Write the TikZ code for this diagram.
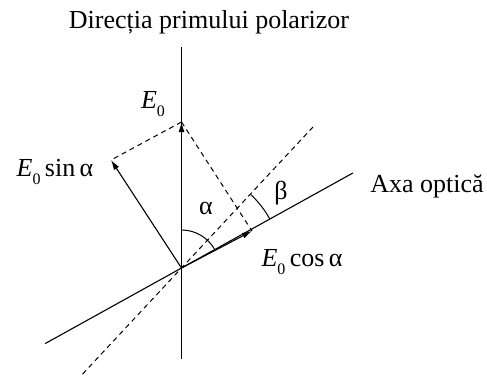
\documentclass[tikz,border=0pt]{standalone}
\usepackage{fontspec}
\setmainfont{Liberation Serif}
\usetikzlibrary{arrows.meta,calc}
\newcommand{\subz}{\raisebox{-0.3em}{\fontsize{16}{18}\selectfont 0}}
\begin{document}
\begin{tikzpicture}[x=1pt,y=-1pt,
  lbl/.style={inner sep=0pt,font=\fontsize{26}{30}\selectfont},
  solidline/.style={line width=1.1pt},
  dashline/.style={line width=1pt,dash pattern=on 5pt off 4pt},
  vec/.style={line width=1.1pt,-{Latex[length=10pt,width=6pt]}}]
\useasboundingbox (0,0) rectangle (487,376);
\coordinate (O) at (181.5,268);
\coordinate (vtop) at (181.5,47);
\coordinate (vbot) at (181.5,359);
\coordinate (aL) at ($(O)+(-156*0.8746,156*0.4848)$);
\coordinate (aR) at ($(O)+(196*0.8746,-196*0.4848)$);
\coordinate (dT) at ($(O)+(194*0.6820,-194*0.7314)$);
\coordinate (dB) at ($(O)+(-145*0.6820,145*0.7314)$);
\coordinate (E) at (181.5,122);
\coordinate (C) at (252,231);
\coordinate (S) at (111,160);
% lines
\draw[solidline] (vtop) -- (vbot);
\draw[solidline] (aL) -- (aR);
\draw[dashline] (dB) -- (dT);
% vectors
\draw[vec] (O) -- (E);
\draw[vec] (O) -- (C);
\draw[vec] (O) -- (S);
% projections
\draw[dashline] (E) -- (S);
\draw[dashline] (E) -- (C);
% arcs (y axis points down: screen angle t is -t here)
\draw[line width=1pt] ($(O)+(0,-38)$) arc[start angle=-90,end angle=-29,radius=38];
\draw[line width=1pt] ($(O)+(101*0.8746,-101*0.4848)$) arc[start angle=-29,end angle=-46.8,radius=101];
% labels
\node[lbl] (title) at (209,22) {Direcția primului polarizor};
\node[lbl] (axa) at (427,186) {Axa optică};
\node[lbl] (e0) at (153,104) {\textit{E}\subz};
\node[lbl] (alpha) at (206,208) {α};
\node[lbl] (beta) at (281,193) {β};
\node[lbl] (ecos) at (302,262) {\textit{E}\subz\,cos\,α};
\node[lbl] (esin) at (55,172) {\textit{E}\subz\,sin\,α};
\end{tikzpicture}
\end{document}
